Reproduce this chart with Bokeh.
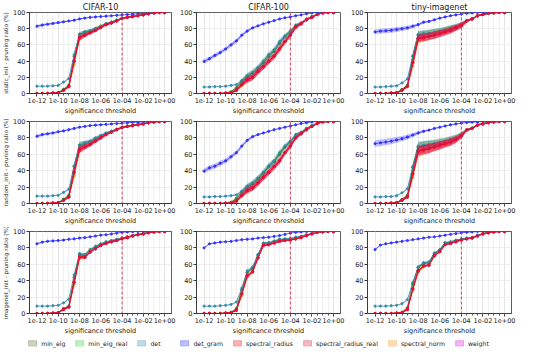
from bokeh.plotting import figure
from bokeh.layouts import column, row
from bokeh.models import (Range1d, FixedTicker, CustomJSTickFormatter, Span,
                          Legend, LegendItem)
from bokeh.embed import file_html
from bokeh.resources import INLINE

# ---------------- data ----------------
THRESHOLDS = [1e-12, 3.16e-12, 1e-11, 3.16e-11, 1e-10, 3.16e-10, 1e-09, 3.16e-09,
              1e-08, 3.16e-08, 1e-07, 3.16e-07, 1e-06, 3.16e-06, 1e-05, 3.16e-05,
              1e-04, 3.16e-04, 1e-03, 3.16e-03, 1e-02, 3.16e-02, 1e-01, 3.16e-01, 1e+00]
MAJOR_TICKS = [1e-12, 1e-10, 1e-08, 1e-06, 1e-04, 1e-02, 1e+00]
Y_TICKS = [0, 20, 40, 60, 80, 100]
DATASETS = ["CIFAR-10", "CIFAR-100", "tiny-imagenet"]
INITS = ["static_init", "random_init", "imagenet_init"]
METHODS = ["min_eig", "min_eig_real", "det", "det_gram", "spectral_radius",
           "spectral_radius_real", "spectral_norm", "weight"]
THRESHOLD_LINE = 1e-04

# static_init, CIFAR-10
S_C10_DETGRAM = [83, 84.5, 85.5, 86.5, 87.5, 88.5, 89.5, 90.5, 92, 93, 94, 94.5, 95, 95.5, 96, 96.5, 97, 97.5, 98, 98.5, 99, 99.5, 100, 100, 100]
S_C10_DETGRAM_SD = [1.8, 1.6, 1.5, 1.4, 1.3, 1.2, 1.0, 0.9, 0.8, 0.7, 0.6, 0.5, 0.5, 0.4, 0.4, 0.3, 0.3, 0.3, 0.2, 0.2, 0.2, 0.1, 0, 0, 0]
S_C10_DET = [9, 9, 9, 9.5, 10, 14, 18.5, 48, 72, 76, 77.5, 80, 83, 86, 88, 90.5, 93, 94.5, 95.5, 96.5, 97.5, 98.5, 99.5, 100, 100]
S_C10_EIG = [0, 0, 0, 0.5, 1, 5, 10, 46, 73, 75.5, 77, 80, 83, 86, 88, 90.5, 93, 94.5, 95.5, 96.5, 97.5, 98.5, 99.5, 100, 100]
S_C10_SPEC = [0, 0, 0, 0.5, 1, 4, 9, 40, 69, 72, 75, 78, 81.5, 85, 87, 89.5, 92.5, 94, 95, 96, 97, 98.5, 99.5, 100, 100]
S_C10_NORM = [0, 0, 0, 0.5, 1, 3.5, 8, 36, 67, 72, 75, 78, 82, 85, 87, 89.5, 92.5, 94, 95, 96, 97, 98.5, 99.5, 100, 100]
S_C10_SD = [0.2, 0.2, 0.2, 0.3, 0.5, 1, 1.5, 3, 3, 2.5, 2, 2, 1.5, 1.5, 1.2, 1, 0.8, 0.6, 0.5, 0.5, 0.4, 0.3, 0.2, 0, 0]

# static_init, CIFAR-100
S_C100_DETGRAM = [39.5, 43, 47, 50.5, 55, 60, 65, 72, 77, 81, 83.5, 86, 88, 90, 92, 93.5, 94.5, 96, 97, 98.5, 99.5, 100, 100, 100, 100]
S_C100_DETGRAM_SD = [2.5, 2.5, 2.5, 2.5, 2.5, 2.5, 2.5, 2.2, 2, 1.5, 1.2, 1, 0.8, 0.8, 0.6, 0.5, 0.5, 0.4, 0.3, 0.2, 0.2, 0, 0, 0, 0]
S_C100_DET = [8, 8, 8.5, 8.5, 9, 10, 11, 16, 22, 26, 32, 40, 48, 54, 64, 71, 77, 84, 87, 92, 95, 98, 99.5, 100, 100]
S_C100_EIG = [0, 0, 0, 0, 0.5, 2, 7, 15, 21, 25, 31, 38, 46, 52, 62, 70, 76, 84, 87, 92, 95, 98, 99.5, 100, 100]
S_C100_SPEC = [0, 0, 0, 0, 0.5, 1, 4, 11, 17, 20, 27, 33, 40, 46, 55, 64, 72, 82, 86, 91, 94, 97.5, 99.5, 100, 100]
S_C100_NORM = [0, 0, 0, 0, 0.5, 1, 3.5, 10, 16, 20, 27, 33, 40, 46, 55, 64, 71.5, 81.5, 86, 91, 94, 97.5, 99.5, 100, 100]
S_C100_SD = [0.1, 0.1, 0.1, 0.1, 0.3, 0.8, 1.5, 2.5, 3.5, 3.5, 3.5, 3.5, 3.5, 3.5, 3.5, 3, 2.5, 2, 1.5, 1, 0.8, 0.5, 0.3, 0, 0]

# static_init, tiny-imagenet
S_TI_DETGRAM = [76, 77, 77.5, 78, 79, 80, 81, 83, 85, 88, 89, 91, 93, 94.5, 96, 97, 98, 99, 99.5, 100, 100, 100, 100, 100, 100]
S_TI_DETGRAM_SD = [3, 3, 3, 3, 3, 2.8, 2.5, 2.2, 2, 1.5, 1.2, 1, 0.8, 0.7, 0.5, 0.4, 0.3, 0.2, 0.1, 0, 0, 0, 0, 0, 0]
S_TI_DET = [8, 8, 8.5, 9, 9.5, 13, 18, 46, 73, 74, 74.5, 75.5, 77, 78.5, 80.5, 82.5, 85.5, 90, 92, 96, 97.5, 99, 99.5, 100, 100]
S_TI_EIG = [0, 0, 0, 0.5, 1, 5, 10, 46, 72, 73, 74, 75, 76.5, 78, 80, 82, 85, 90, 92, 96, 97.5, 99, 99.5, 100, 100]
S_TI_SPEC = [0, 0, 0, 0.5, 1, 4, 9, 38, 68, 69, 70.5, 72, 74, 76, 78, 81, 84, 89.5, 92, 96, 97.5, 99, 99.5, 100, 100]
S_TI_NORM = [0, 0, 0, 0.5, 1, 3.5, 8, 34, 65, 68, 70, 72, 74, 76, 78, 81, 84, 89.5, 92, 96, 97.5, 99, 99.5, 100, 100]
S_TI_SD = [0.2, 0.2, 0.2, 0.3, 0.5, 1, 1.5, 4, 4.5, 4.5, 4.5, 4.5, 4.2, 4, 4, 3.5, 3, 1.5, 1, 0.8, 0.5, 0.3, 0.2, 0, 0]

# random_init, CIFAR-10
R_C10_DETGRAM = [82, 84, 85, 86, 87.5, 88.5, 90, 91.5, 93, 94, 95, 95.5, 96, 96.5, 97, 97.5, 98, 98.5, 99, 99.2, 99.5, 100, 100, 100, 100]
R_C10_DETGRAM_SD = [2, 1.8, 1.6, 1.5, 1.3, 1.2, 1, 0.9, 0.8, 0.7, 0.6, 0.5, 0.5, 0.4, 0.4, 0.3, 0.3, 0.2, 0.2, 0.2, 0.1, 0, 0, 0, 0]
R_C10_DET = [9, 9, 9, 9.5, 10, 13.5, 17.5, 46, 71, 74, 76, 80, 83, 86, 88, 90.5, 93, 94.5, 95.5, 96.5, 97.5, 98.5, 99.5, 100, 100]
R_C10_EIG = [0, 0, 0, 0.5, 1, 5, 10, 45, 71, 73, 75, 79, 82, 85.5, 88, 90.5, 93, 94.5, 95.5, 96.5, 97.5, 98.5, 99.5, 100, 100]
R_C10_SPEC = [0, 0, 0, 0.5, 1, 4, 8, 38, 66, 69, 72, 76, 80, 84, 87, 90, 92.5, 94, 95, 96, 97, 98.5, 99.5, 100, 100]
R_C10_NORM = [0, 0, 0, 0.5, 1, 3.5, 7.5, 34, 64, 69, 72, 76, 80, 84, 87, 90, 92.5, 94, 95, 96, 97, 98.5, 99.5, 100, 100]
R_C10_SD = [0.2, 0.2, 0.2, 0.3, 0.5, 1, 1.5, 3.5, 4, 3, 2.5, 2, 1.8, 1.5, 1.2, 1, 0.8, 0.6, 0.5, 0.5, 0.4, 0.3, 0.2, 0, 0]

# random_init, CIFAR-100
R_C100_DETGRAM = [39.5, 43.5, 45.5, 49, 52, 57, 62, 70, 77, 81.5, 84, 86, 88, 90, 91.5, 93, 94.5, 96, 97.5, 98.5, 99.5, 100, 100, 100, 100]
R_C100_DETGRAM_SD = [3, 3, 3, 3, 3, 2.8, 2.6, 2.4, 2, 1.6, 1.2, 1, 0.8, 0.7, 0.6, 0.5, 0.5, 0.4, 0.3, 0.2, 0.1, 0, 0, 0, 0]
R_C100_DET = [8, 8, 8.5, 8.5, 9, 9.5, 10.5, 15, 21, 25, 31, 38, 46, 52, 62, 70, 76, 84, 87, 91.5, 95, 98, 99.5, 100, 100]
R_C100_EIG = [0, 0, 0, 0, 0.5, 1.5, 6, 14, 20, 24, 30, 37, 45, 51, 60, 69, 75, 83.5, 86.5, 91.5, 95, 98, 99.5, 100, 100]
R_C100_SPEC = [0, 0, 0, 0, 0.3, 0.8, 3, 10, 16, 19, 25, 32, 38, 45, 52, 62, 70, 80, 85, 90, 94, 97.5, 99.5, 100, 100]
R_C100_NORM = [0, 0, 0, 0, 0.3, 0.8, 2.5, 9, 15, 19, 25, 32, 38, 45, 52, 62, 69.5, 80, 85, 90, 94, 97.5, 99.5, 100, 100]
R_C100_SD = [0.1, 0.1, 0.1, 0.1, 0.3, 0.8, 1.5, 2.5, 3.5, 3.5, 3.5, 3.5, 3.5, 3.5, 3.5, 3, 2.5, 2, 1.5, 1, 0.8, 0.5, 0.3, 0, 0]

# random_init, tiny-imagenet
R_TI_DETGRAM = [73, 74, 75, 76, 77.5, 79, 81, 83.5, 86, 88, 89.5, 91.5, 93, 94.5, 96, 97, 98, 98.7, 99.2, 99.5, 100, 100, 100, 100, 100]
R_TI_DETGRAM_SD = [4, 4, 4, 3.8, 3.5, 3.2, 3, 2.5, 2, 1.5, 1.2, 1, 0.8, 0.6, 0.5, 0.4, 0.3, 0.2, 0.1, 0.1, 0, 0, 0, 0, 0]
R_TI_DET = [8, 8, 8.5, 8.5, 9.5, 13, 18, 45, 70, 71, 72, 73, 74.5, 76, 78, 80, 84, 90, 92, 96, 97.5, 99, 99.5, 100, 100]
R_TI_EIG = [0, 0, 0, 0.5, 1, 5, 10, 44, 69, 70, 71, 72, 73.5, 75, 77, 79.5, 83.5, 90, 92, 96, 97.5, 99, 99.5, 100, 100]
R_TI_SPEC = [0, 0, 0, 0.5, 1, 4, 8, 36, 64, 65.5, 67, 69, 71, 73, 75, 78, 82.5, 89.5, 91.5, 95.5, 97, 98.5, 99.5, 100, 100]
R_TI_NORM = [0, 0, 0, 0.5, 1, 3.5, 7.5, 32, 61, 64, 66.5, 68.5, 70.5, 72.5, 75, 78, 82.5, 89.5, 91.5, 95.5, 97, 98.5, 99.5, 100, 100]
R_TI_SD = [0.2, 0.2, 0.2, 0.3, 0.5, 1, 1.5, 4, 5.5, 5.5, 5.5, 5, 5, 4.5, 4.5, 4, 3, 1.5, 1, 0.8, 0.5, 0.3, 0.2, 0, 0]

# imagenet_init, CIFAR-10
I_C10_DETGRAM = [85, 87, 88, 88.5, 89, 89.5, 90.5, 91, 92, 92.5, 93.5, 94.5, 95.5, 96, 97, 98, 99, 99.5, 99.8, 100, 100, 100, 100, 100, 100]
I_C10_DETGRAM_SD = [1, 0.8, 0.6, 0.5, 0.5, 0.5, 0.4, 0.4, 0.3, 0.3, 0.3, 0.3, 0.2, 0.2, 0.2, 0.1, 0.1, 0.1, 0, 0, 0, 0, 0, 0, 0]
I_C10_DET = [9, 9, 9, 9.5, 10, 13, 17.5, 47, 73, 72, 78, 82, 85, 87.5, 89, 90.5, 92, 93.5, 95, 96.5, 97.5, 99, 99.5, 100, 100]
I_C10_EIG = [0, 0, 0, 0.5, 1, 6, 9, 44, 72, 71, 77, 81, 84.5, 87, 88.5, 90, 92, 93.5, 95, 96.5, 97.5, 99, 99.5, 100, 100]
I_C10_SPEC = [0, 0, 0, 0.5, 1, 5, 8, 38, 69, 68.5, 75, 79, 83, 85.5, 87.5, 89, 91, 92.5, 94.5, 96, 97, 98.5, 99.5, 100, 100]
I_C10_NORM = [0, 0, 0, 0.5, 1, 4.5, 7.5, 35, 67, 68, 75, 79, 83, 85.5, 87.5, 89, 91, 92.5, 94.5, 96, 97, 98.5, 99.5, 100, 100]
I_C10_SD = [0.2, 0.2, 0.2, 0.3, 0.4, 0.8, 1, 2, 2, 1.5, 1.2, 1, 1, 0.8, 0.8, 0.7, 0.6, 0.5, 0.4, 0.3, 0.3, 0.2, 0.1, 0, 0]

# imagenet_init, CIFAR-100
I_C100_DETGRAM = [80, 85, 86, 87, 87.5, 88, 89, 90, 90.5, 91, 92, 92.5, 93, 94, 95, 96.5, 98, 99, 99.5, 100, 100, 100, 100, 100, 100]
I_C100_DETGRAM_SD = [0.8, 0.6, 0.5, 0.5, 0.4, 0.4, 0.4, 0.3, 0.3, 0.3, 0.3, 0.2, 0.2, 0.2, 0.2, 0.1, 0.1, 0.1, 0, 0, 0, 0, 0, 0, 0]
I_C100_DET = [9, 9, 9, 9.5, 10, 11, 14, 31, 52, 57, 72, 86, 86.5, 88.5, 90.5, 91, 91.5, 93, 94, 96, 97.5, 99, 99.5, 100, 100]
I_C100_EIG = [0, 0, 0, 0, 0.5, 1.5, 6, 29, 50, 55, 71, 85.5, 86, 88, 90, 90.5, 91, 92.5, 94, 96, 97.5, 99, 99.5, 100, 100]
I_C100_SPEC = [0, 0, 0, 0, 0.5, 1, 4, 24, 46, 51, 68, 83, 84, 86, 88, 89, 89.5, 91, 92.5, 95, 97, 99, 99.7, 100, 100]
I_C100_NORM = [0, 0, 0, 0, 0.5, 1, 3.5, 22, 44, 50, 67, 82.5, 84, 86, 88, 89, 89.5, 91, 92.5, 95, 97, 99, 99.7, 100, 100]
I_C100_SD = [0.2, 0.2, 0.2, 0.2, 0.3, 0.5, 1, 1.5, 1.5, 1.5, 1.2, 1, 1, 0.8, 0.8, 0.7, 0.6, 0.5, 0.4, 0.3, 0.3, 0.2, 0.1, 0, 0]

# imagenet_init, tiny-imagenet
I_TI_DETGRAM = [78, 83.5, 85, 86, 87, 88, 89, 90, 91, 92, 93, 93.5, 94.5, 95.5, 96.5, 97.5, 98.5, 99, 99.5, 100, 100, 100, 100, 100, 100]
I_TI_DETGRAM_SD = [0.8, 0.6, 0.5, 0.5, 0.4, 0.4, 0.4, 0.3, 0.3, 0.3, 0.3, 0.2, 0.2, 0.2, 0.2, 0.1, 0.1, 0.1, 0, 0, 0, 0, 0, 0, 0]
I_TI_DET = [9, 9, 9, 9.5, 10, 12, 17, 38, 57, 62, 63, 74, 78, 86.5, 87.5, 89.5, 91, 92, 93, 95.5, 97.5, 99, 99.5, 100, 100]
I_TI_EIG = [0, 0, 0, 0, 0.5, 1.5, 7, 36, 56, 61, 62, 73, 77.5, 86, 87, 89, 90.5, 91.5, 92.5, 95, 97.5, 99, 99.5, 100, 100]
I_TI_SPEC = [0, 0, 0, 0, 0.5, 1, 5, 30, 52, 58, 59, 70.5, 75.5, 84, 85.5, 87.5, 89.5, 91, 92, 94.5, 97, 98.5, 99.5, 100, 100]
I_TI_NORM = [0, 0, 0, 0, 0.5, 1, 4.5, 28, 50, 57, 59, 70, 75, 84, 85.5, 87.5, 89.5, 91, 92, 94.5, 97, 98.5, 99.5, 100, 100]
I_TI_SD = [0.2, 0.2, 0.2, 0.2, 0.3, 0.5, 1, 1.5, 1.5, 1.5, 1.2, 1, 1, 0.8, 0.8, 0.7, 0.6, 0.5, 0.4, 0.3, 0.3, 0.2, 0.1, 0, 0]

PANELS = [
    [(S_C10_DETGRAM, S_C10_DETGRAM_SD, S_C10_DET, S_C10_EIG, S_C10_SPEC, S_C10_NORM, S_C10_SD),
     (S_C100_DETGRAM, S_C100_DETGRAM_SD, S_C100_DET, S_C100_EIG, S_C100_SPEC, S_C100_NORM, S_C100_SD),
     (S_TI_DETGRAM, S_TI_DETGRAM_SD, S_TI_DET, S_TI_EIG, S_TI_SPEC, S_TI_NORM, S_TI_SD)],
    [(R_C10_DETGRAM, R_C10_DETGRAM_SD, R_C10_DET, R_C10_EIG, R_C10_SPEC, R_C10_NORM, R_C10_SD),
     (R_C100_DETGRAM, R_C100_DETGRAM_SD, R_C100_DET, R_C100_EIG, R_C100_SPEC, R_C100_NORM, R_C100_SD),
     (R_TI_DETGRAM, R_TI_DETGRAM_SD, R_TI_DET, R_TI_EIG, R_TI_SPEC, R_TI_NORM, R_TI_SD)],
    [(I_C10_DETGRAM, I_C10_DETGRAM_SD, I_C10_DET, I_C10_EIG, I_C10_SPEC, I_C10_NORM, I_C10_SD),
     (I_C100_DETGRAM, I_C100_DETGRAM_SD, I_C100_DET, I_C100_EIG, I_C100_SPEC, I_C100_NORM, I_C100_SD),
     (I_TI_DETGRAM, I_TI_DETGRAM_SD, I_TI_DET, I_TI_EIG, I_TI_SPEC, I_TI_NORM, I_TI_SD)],
]

# ---------------- style ----------------
COLORS = {
    "min_eig": "#556b2f",
    "min_eig_real": "#32cd32",
    "det": "#2f86ad",
    "det_gram": "#2a2aff",
    "spectral_radius": "#f20505",
    "spectral_radius_real": "#dc143c",
    "spectral_norm": "#ff8c00",
    "weight": "#e605e6",
}
DRAW_ORDER = ["min_eig_real", "min_eig", "det", "det_gram", "spectral_norm",
              "weight", "spectral_radius", "spectral_radius_real"]
FONT = "DejaVu Sans"
TXT = "#222222"
COL_W = [176, 169, 171]
COL_LEFT = [28, 20, 22]
ROW_H = [117, 110, 110]
ROW_TOP = [11, 4, 4]

TICK_JS = """
const e = Math.round(Math.log10(tick));
const a = Math.abs(e);
return "1e" + (e < 0 ? "-" : "+") + (a < 10 ? "0" : "") + a;
"""


def make_panel(r, c):
    dg, dg_sd, det, eig, spec, norm, sd = PANELS[r][c]
    series = {
        "min_eig": (eig, sd), "min_eig_real": (eig, sd), "det": (det, sd),
        "det_gram": (dg, dg_sd), "spectral_radius": (spec, sd),
        "spectral_radius_real": (spec, sd), "spectral_norm": (norm, sd),
        "weight": (spec, sd),
    }
    p = figure(width=COL_W[c], height=ROW_H[r], x_axis_type="log",
               x_range=Range1d(10 ** -12.7, 10 ** 0.65), y_range=Range1d(0, 100),
               output_backend="svg", toolbar_location=None,
               min_border_left=COL_LEFT[c], min_border_right=5,
               min_border_top=ROW_TOP[r], min_border_bottom=20)
    p.background_fill_color = "white"
    p.border_fill_color = "white"
    p.outline_line_color = "#333333"
    p.outline_line_width = 0.8
    if r == 0:
        p.title.text = DATASETS[c]
        p.title.align = "center"
        p.title.text_font = FONT
        p.title.text_font_size = "8px"
        p.title.text_font_style = "normal"
        p.title.text_color = TXT
        p.title.standoff = 1
        p.title.offset = 0

    p.xaxis.ticker = FixedTicker(ticks=MAJOR_TICKS, minor_ticks=THRESHOLDS)
    p.xaxis.formatter = CustomJSTickFormatter(code=TICK_JS)
    p.yaxis.ticker = FixedTicker(ticks=Y_TICKS, minor_ticks=[])
    p.xaxis.axis_label = "significance threshold"
    if c == 0:
        p.yaxis.axis_label = INITS[r] + " - pruning ratio (%)"
    for ax in (p.xaxis[0], p.yaxis[0]):
        ax.major_label_text_font = FONT
        ax.major_label_text_font_size = "6.5px"
        ax.major_label_text_color = TXT
        ax.axis_label_text_font = FONT
        ax.axis_label_text_font_size = "6.5px"
        ax.axis_label_text_font_style = "normal"
        ax.axis_label_text_color = TXT
        ax.axis_line_color = "#333333"
        ax.axis_line_width = 0.8
        ax.major_tick_line_color = "#333333"
        ax.major_tick_out = 3
        ax.major_tick_in = 0
        ax.major_label_standoff = 1
        ax.axis_label_standoff = 1
    p.yaxis.axis_label_text_font_size = "5.7px"
    p.xaxis.minor_tick_out = 2
    p.xaxis.minor_tick_in = 0
    p.xaxis.minor_tick_line_color = "#555555"
    p.yaxis.minor_tick_line_color = None

    p.xgrid.grid_line_color = "#dddddd"
    p.xgrid.grid_line_width = 0.6
    p.xgrid.minor_grid_line_color = "#e8e8e8"
    p.xgrid.minor_grid_line_width = 0.6
    p.ygrid.grid_line_color = "#e2e2e2"
    p.ygrid.grid_line_width = 0.6

    for m in DRAW_ORDER:
        mean, s = series[m]
        lo = [a - b for a, b in zip(mean, s)]
        hi = [a + b for a, b in zip(mean, s)]
        col = COLORS[m]
        p.varea(x=THRESHOLDS, y1=lo, y2=hi, fill_color=col, fill_alpha=0.3)
        p.line(x=THRESHOLDS, y=mean, line_color=col, line_width=0.9, line_alpha=0.8)
        p.scatter(x=THRESHOLDS, y=mean, size=2.2, color=col, alpha=0.85)

    p.add_layout(Span(location=THRESHOLD_LINE, dimension="height",
                      line_color="#e0203c", line_dash="3 2", line_width=1,
                      line_alpha=0.85))
    return p


rows = []
for r in range(3):
    rows.append(row(*[make_panel(r, c) for c in range(3)]))

leg = figure(width=516, height=11, output_backend="svg", toolbar_location=None,
             x_range=Range1d(0, 1), y_range=Range1d(0, 1),
             x_axis_location=None, y_axis_location=None, min_border=0)
leg.outline_line_color = None
leg.grid.visible = False
items = []
for m in METHODS:
    col = COLORS[m]
    # swatch-only renderers: the quads lie outside the (hidden) plot area
    rr = leg.quad(left=[5], right=[6], top=[5], bottom=[4], fill_color=col,
                  fill_alpha=0.3, line_color=col, line_alpha=0.3)
    items.append(LegendItem(label=m, renderers=[rr]))
legend = Legend(items=items, orientation="horizontal", location="center",
                border_line_color=None, background_fill_alpha=0,
                padding=0, margin=0, spacing=9, glyph_width=10, glyph_height=7,
                label_standoff=4, label_text_font=FONT,
                label_text_font_size="6.2px", label_text_color=TXT,
                label_height=7)
leg.add_layout(legend, "center")

layout = column(*rows, leg)
open("out.html", "w").write(file_html(layout, INLINE))
